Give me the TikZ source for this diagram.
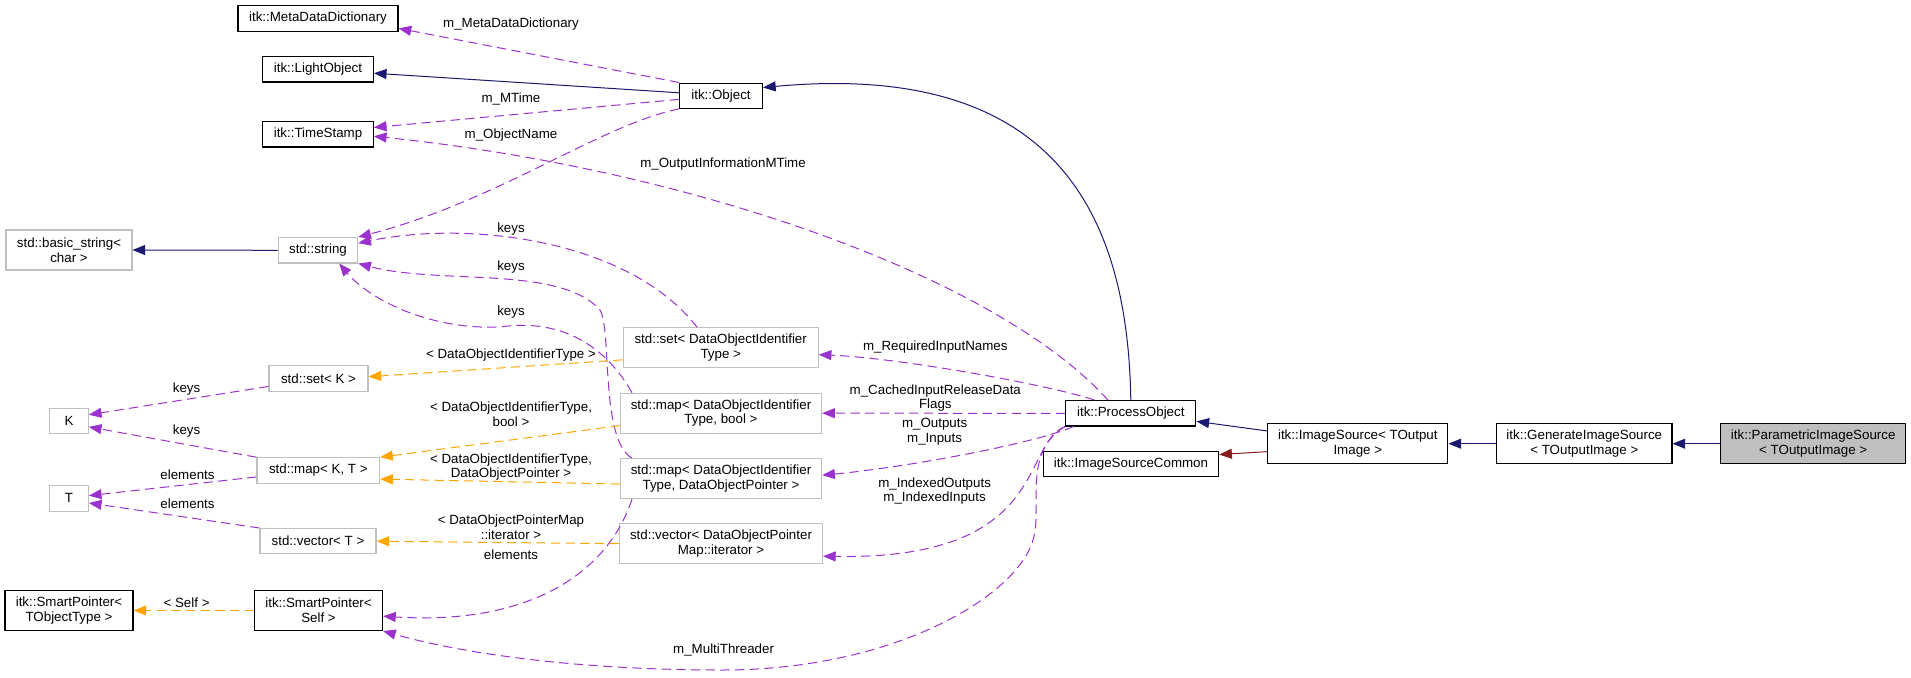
\documentclass[tikz,border=0pt]{standalone}
\usepackage{fontspec}
\setmainfont{Liberation Sans}
\usetikzlibrary{arrows.meta}

\definecolor{inhcol}{HTML}{191970}
\definecolor{protcol}{HTML}{8B1A1A}
\definecolor{usecol}{HTML}{9A32CD}
\definecolor{tmplcol}{HTML}{FFA500}
\definecolor{extcol}{HTML}{BFBFBF}

\begin{document}
\begin{tikzpicture}[x=0.75pt, y=-0.75pt, every node/.style={font=\fontsize{10}{11}\selectfont, align=center},
    cls/.style={rectangle, draw=black, line width=0.8pt, fill=white, inner sep=1pt, minimum height=19pt},
    ext/.style={cls, draw=extcol}, cur/.style={cls, fill=extcol}, two/.style={minimum height=30pt},
    lbl/.style={inner sep=0pt},
    inh/.style={draw=inhcol, line width=0.75pt, -{Triangle[length=9.5pt, width=7.5pt]}},
    member/.style={inh, draw=usecol, dash pattern=on 7pt off 4pt},
    tmpl/.style={member, draw=tmplcol}]
        \useasboundingbox (0,0) rectangle (1911,678);

        % Draw the itk classes
        \node[cls, minimum width=120pt] (mdd) at (318,18.5) {itk::MetaDataDictionary};
        \node[cls, minimum width=83pt] (lobj) at (318,69.3) {itk::LightObject};
        \node[cls, minimum width=83pt] (tstamp) at (318,134.3) {itk::TimeStamp};
        \node[cls, minimum width=62.25pt] (obj) at (721,95.7) {itk::Object};
        \node[cls, two, minimum width=96pt] (spto) at (69,610.5) {itk::SmartPointer<\\TObjectType >};
        \node[cls, two, minimum width=96pt] (spself) at (318.5,610.5) {itk::SmartPointer<\\Self >};
        \node[cls, minimum width=97.7pt] (proc) at (1130.8,413.3) {itk::ProcessObject};
        \node[cls, minimum width=131.5pt] (isc) at (1131,463.8) {itk::ImageSourceCommon};
        \node[cls, two, minimum width=135.2pt] (isrc) at (1357.8,443.7) {itk::ImageSource< TOutput\\Image >};
        \node[cls, two, minimum width=131.5pt] (gen) at (1584.3,443.7) {itk::GenerateImageSource\\< TOutputImage >};
        \node[cur, two, minimum width=138.75pt] (par) at (1813.2,443.7) {itk::ParametricImageSource\\< TOutputImage >};

        % Draw the std classes
        \node[ext, two, minimum width=94.5pt] (bstr) at (69,250) {std::basic\_string<\\char >};
        \node[ext, minimum width=59.6pt] (str) at (318,250.3) {std::string};
        \node[ext, two, minimum width=146.25pt] (setdoi) at (720.7,347.8) {std::set< DataObjectIdentifier\\Type >};
        \node[ext, minimum width=74.25pt] (setk) at (318.5,378.5) {std::set< K >};
        \node[ext, minimum width=29pt] (K) at (69,421.2) {K};
        \node[ext, two, minimum width=151pt] (mapdoib) at (721,413.2) {std::map< DataObjectIdentifier\\Type, bool >};
        \node[ext, minimum width=92pt] (mapkt) at (318.3,470.4) {std::map< K, T >};
        \node[ext, minimum width=29pt] (T) at (69,498.4) {T};
        \node[ext, two, minimum width=151pt] (mapdoip) at (721,478.7) {std::map< DataObjectIdentifier\\Type, DataObjectPointer >};
        \node[ext, minimum width=87pt] (vect) at (318,541.2) {std::vector< T >};
        \node[ext, two, minimum width=152.25pt] (vecit) at (721,543.7) {std::vector< DataObjectPointer\\Map::iterator >};

        % Draw the inheritance arrows
        \draw[inh] (par.west) -- (gen.east);
        \draw[inh] (gen.west) -- (isrc.east);
        \draw[inh] (isrc.172) -- (proc.-7);
        \draw[inh, draw=protcol] (isrc.185) -- (isc.6);
        \draw[inh] (proc.north) .. controls (1128,220) and (1060,60) .. (obj.11);
        \draw[inh] (obj.176) -- (lobj.-4);
        \draw[inh] (str.west) -- (bstr.east);

        % Draw the members of itk::Object
        \draw[member] (obj.north west) -- (mdd.-7);
        \draw[member] (obj.185) -- (tstamp.7);
        \draw[member] (obj.south west) .. controls (600,125) and (500,200) .. (str.north east);

        % Draw the members of itk::ProcessObject
        \draw[member] (proc.150) .. controls (1000,280) and (700,170) .. (tstamp.-2);
        \draw[member] (proc.160) .. controls (1050,385) and (900,358) .. (setdoi.-4);
        \draw[member] (proc.west) -- (mapdoib.east);
        \draw[member] (proc.193.5) .. controls (1030,445) and (900,468) .. (mapdoip.2.5);
        \draw[member] (proc.south west) .. controls (1020,445) and (1050,560) .. (vecit.-7);
        \draw[member] (proc.south west) .. controls (1025,450) and (1040,500) .. (1035,530)
            .. controls (1030,590) and (900,670) .. (723,670)
            .. controls (560,670) and (450,650) .. (spself.south east);

        % Draw the members of the std containers
        \draw[member] (setdoi.139) .. controls (630,240) and (470,220) .. (str.10);
        \draw[member] (mapdoip.167.5) .. controls (600,440) and (612,330) .. (600,310)
            .. controls (560,265) and (440,285) .. (str.south east);
        \draw[member] (mapdoib.167) .. controls (605,345) and (560,318) .. (500,327)
            .. controls (430,330) and (370,300) .. (str.-32);
        \draw[member] (setk.189) -- (K.18);
        \draw[member] (mapkt.north west) -- (K.-16);
        \draw[member] (mapkt.186) -- (T.8);
        \draw[member] (vect.north west) -- (T.-13);
        \draw[member] (mapdoip.193.6) .. controls (605,580) and (520,625) .. (spself.-5);

        % Draw the template instances
        \draw[tmpl] (setdoi.187) -- (setk.2);
        \draw[tmpl] (mapdoib.187) -- (mapkt.north east);
        \draw[tmpl] (mapdoip.183) -- (mapkt.-8);
        \draw[tmpl] (vecit.west) -- (vect.east);
        \draw[tmpl] (spself.west) -- (spto.east);

        % Draw the edge labels
        \node[lbl] (lmdd) at (511,24.3) {m\_MetaDataDictionary};
        \node[lbl] (lmtime) at (511,99.3) {m\_MTime};
        \node[lbl] (lname) at (511,135.3) {m\_ObjectName};
        \node[lbl] (loutmt) at (723,163.7) {m\_OutputInformationMTime};
        \node[lbl] (lkeysa) at (511,228.7) {keys};
        \node[lbl] (lkeysb) at (511,266.7) {keys};
        \node[lbl] (lkeysc) at (511,311.7) {keys};
        \node[lbl] (ltset) at (511,355) {< DataObjectIdentifierType >};
        \node[lbl] (lkeysd) at (186.6,388.7) {keys};
        \node[lbl] (lkeyse) at (186.6,430.7) {keys};
        \node[lbl] (ltmapb) at (511,414) {< DataObjectIdentifierType,\\bool >};
        \node[lbl] (lelema) at (187.5,474.5) {elements};
        \node[lbl] (lelemb) at (187.5,504.2) {elements};
        \node[lbl] (ltmapp) at (511,467) {< DataObjectIdentifierType,\\DataObjectPointer >};
        \node[lbl] (ltvec) at (511,527) {< DataObjectPointerMap\\::iterator >};
        \node[lbl] (lelemc) at (511,554.3) {elements};
        \node[lbl] (lself) at (186.6,602.7) {< Self >};
        \node[lbl] (lmt) at (723.6,650) {m\_MultiThreader};
        \node[lbl] (lreq) at (935.3,347.3) {m\_RequiredInputNames};
        \node[lbl] (lcache) at (935.3,398) {m\_CachedInputReleaseData\\Flags};
        \node[lbl] (lout) at (934.6,432) {m\_Outputs\\m\_Inputs};
        \node[lbl] (lidx) at (934.6,491) {m\_IndexedOutputs\\m\_IndexedInputs};
      \end{tikzpicture}
\end{document}
